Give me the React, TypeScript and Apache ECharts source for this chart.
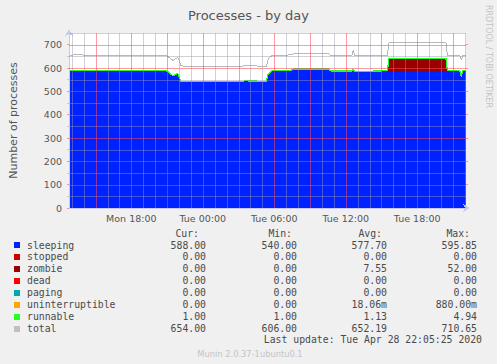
import React, { useEffect, useRef } from "react";
import * as echarts from "echarts";

// ---- data ----
const times = [
  "Mon 12:47", "Mon 13:45", "Mon 14:15", "Mon 16:00", "Mon 17:30", "Mon 19:00", "Mon 20:40",
  "Mon 21:00", "Mon 21:15", "Mon 21:30", "Mon 21:45", "Mon 21:55", "Mon 22:10", "Mon 23:00",
  "Tue 01:00", "Tue 03:20", "Tue 03:30", "Tue 04:30", "Tue 04:40", "Tue 05:20", "Tue 05:30",
  "Tue 05:50", "Tue 07:25", "Tue 07:35", "Tue 09:00", "Tue 10:35", "Tue 10:45", "Tue 12:30",
  "Tue 12:38", "Tue 12:45", "Tue 15:30", "Tue 15:38", "Tue 17:30", "Tue 20:25", "Tue 20:32",
  "Tue 21:35", "Tue 21:42", "Tue 21:50", "Tue 22:05",
];
const sleeping = [
  589, 590, 588, 588, 590, 589, 589,
  586, 575, 566, 573, 574, 541, 540,
  540, 540, 544, 543, 540, 540, 574,
  588, 589, 595, 595, 595, 586, 586,
  588, 584, 587, 588, 588, 588, 587,
  588, 563, 589, 588,
];
const zombie = [
  0, 0, 0, 0, 0, 0, 0,
  0, 0, 0, 0, 0, 0, 0,
  0, 0, 0, 0, 0, 0, 0,
  0, 0, 0, 0, 0, 0, 0,
  0, 0, 0, 52, 52, 52, 0,
  0, 0, 0, 0,
];
const runnable = [
  1, 1, 1, 1, 1, 1, 1,
  1, 1, 1, 1, 1, 1, 1,
  1, 1, 1, 1, 1, 1, 1,
  1, 1, 1, 1, 1, 1, 1,
  5, 1, 1, 1, 1, 1, 1,
  1, 1, 1, 1,
];
const total = [
  655, 657, 654, 655, 655, 655, 654,
  651, 643, 632, 641, 645, 609, 607,
  608, 607, 611, 610, 607, 607, 640,
  654, 656, 661, 662, 661, 652, 652,
  675, 652, 654, 708, 711, 709, 654,
  654, 635, 654, 654,
];

// axis ticks (hours since Mon 00:00) and value ticks
const xLabelHours = [18, 24, 30, 36, 42];
const xMajorHours = [15, 18, 21, 24, 27, 30, 33, 36, 39, 42, 45];
const xMinorHours = [13, 14, 16, 17, 19, 20, 22, 23, 25, 26, 28, 29, 31, 32, 34, 35, 37, 38, 40, 41, 43, 44, 46];
const yLabels = [0, 100, 200, 300, 400, 500, 600, 700];
const yMinor = [50, 150, 250, 350, 450, 550, 650, 750];

// legend table
const legendNames = ["sleeping", "stopped", "zombie", "dead", "paging", "uninterruptible", "runnable", "total"];
const legendColors = ["#0022ff", "#cc0000", "#990000", "#ff0000", "#00aaaa", "#ffa500", "#22ff22", "#c0c0c0"];
const curValues = ["588.00", "0.00", "0.00", "0.00", "0.00", "0.00", "1.00", "654.00"];
const minValues = ["540.00", "0.00", "0.00", "0.00", "0.00", "0.00", "1.00", "606.00"];
const avgValues = ["577.70", "0.00", "7.55", "0.00", "0.00", "18.06m", "1.13", "652.19"];
const maxValues = ["595.85", "0.00", "52.00", "0.00", "0.00", "880.00m", "4.94", "710.65"];

const X_MIN = 12 + 46 / 60;
const X_MAX = 46.1;
const Y_MAX = 750;

function toHours(t: string): number {
  const [d, hm] = t.split(" ");
  const [h, m] = hm.split(":").map(Number);
  return (d === "Tue" ? 24 : 0) + h + m / 60;
}

const xs = times.map(toHours);
// stacked tops (sleeping, +zombie, +runnable), painted back to front
const topZombie = sleeping.map((v, i) => v + zombie[i]);
const topRunnable = topZombie.map((v, i) => v + runnable[i]);
const pairs = (vals: number[]) => vals.map((v, i) => [xs[i], v]);

const pad = (n: number) => (n < 10 ? "0" + n : "" + n);
const fmtHour = (v: number) => {
  const r = Math.round(v);
  return (r < 24 ? "Mon" : "Tue") + " " + pad(r % 24) + ":00";
};

const MONO = '"DejaVu Sans Mono", monospace';
const SANS = '"DejaVu Sans", sans-serif';
const TXT = "#4a4a4a";
const AXIS = "#c8c8f0";
const MINOR = "rgba(150,150,170,0.45)";
const MAJOR = "rgba(255,70,90,0.55)";

// grid line list: [x, y, kind]; kind 0 = minor vertical, 1 = minor horizontal, 2 = major vertical, 3 = major horizontal
const gridLineData: number[][] = [
  ...xMinorHours.map((h) => [h, 0, 0]),
  ...yMinor.map((v) => [X_MIN, v, 1]),
  ...xMajorHours.map((h) => [h, 0, 2]),
  ...yLabels.filter((v) => v > 0).map((v) => [X_MIN, v, 3]),
];

export default function App() {
  const ref = useRef<HTMLDivElement>(null);
  useEffect(() => {
    if (!ref.current) return;
    const chart = echarts.init(ref.current, undefined, { renderer: "svg" });

    const tickAxisX = (vals: number[], color: string) => ({
      type: "value",
      min: X_MIN,
      max: X_MAX,
      axisLine: { show: false },
      axisLabel: { show: false },
      axisTick: { show: true, length: 2, customValues: vals, lineStyle: { color } },
      splitLine: { show: false },
    });
    const tickAxisY = (vals: number[], color: string, position = "left") => ({
      type: "value",
      min: 0,
      max: Y_MAX,
      position,
      axisLine: { show: false },
      axisLabel: { show: false },
      axisTick: { show: true, length: 2, customValues: vals, lineStyle: { color } },
      splitLine: { show: false },
    });

    const graphic: any[] = [];
    const rowY = (i: number) => 245 + 11.95 * i;
    const headers = [["Cur:", 199], ["Min:", 292], ["Avg:", 382], ["Max:", 470]] as const;
    headers.forEach(([t, x]) =>
      graphic.push({
        type: "text", x, y: 233,
        style: { text: t, fill: TXT, font: `9.8px ${MONO}`, align: "right", verticalAlign: "middle" },
      })
    );
    const cols: [string[], number][] = [[curValues, 206], [minValues, 297], [avgValues, 387], [maxValues, 477]];
    legendNames.forEach((name, i) => {
      const y = rowY(i);
      graphic.push({ type: "rect", shape: { x: 14, y: Math.round(y) - 3, width: 6, height: 6 }, style: { fill: legendColors[i] } });
      graphic.push({
        type: "text", x: 27, y,
        style: { text: name, fill: TXT, font: `9.8px ${MONO}`, align: "left", verticalAlign: "middle" },
      });
      cols.forEach(([arr, x]) =>
        graphic.push({
          type: "text", x, y,
          style: { text: arr[i], fill: TXT, font: `9.8px ${MONO}`, align: "right", verticalAlign: "middle" },
        })
      );
    });
    graphic.push({
      type: "text", x: 482, y: 339.5,
      style: { text: "Last update: Tue Apr 28 22:05:25 2020", fill: TXT, font: `9.8px ${MONO}`, align: "right", verticalAlign: "middle" },
    });
    graphic.push({
      type: "text", x: 250, y: 353.5,
      style: { text: "Munin 2.0.37-1ubuntu0.1", fill: "#c4c4c4", font: `8.3px ${SANS}`, align: "center", verticalAlign: "middle" },
    });
    graphic.push({
      type: "text", x: 488, y: 56.5, rotation: -Math.PI / 2,
      style: { text: "RRDTOOL / TOBI OETIKER", fill: "#c4c4c4", font: `8px ${SANS}`, align: "center", verticalAlign: "middle" },
    });

    const area = (name: string, vals: number[], color: string, lineWidth = 0) => ({
      name, type: "line", symbol: "none", z: 1,
      data: pairs(vals),
      lineStyle: { width: lineWidth, color },
      areaStyle: { color, opacity: 1, origin: "start" },
      itemStyle: { color },
    });

    const renderGrid = (params: any, api: any) => {
      const kind = api.value(2);
      const cs = params.coordSys;
      const color = kind >= 2 ? MAJOR : MINOR;
      const style = { stroke: color, lineWidth: 1, fill: "none" };
      const p = api.coord([api.value(0), api.value(1)]);
      if (kind % 2 === 0) {
        const x = Math.round(p[0]) + 0.5;
        return { type: "line", z2: 100, shape: { x1: x, y1: cs.y, x2: x, y2: cs.y + cs.height }, style };
      }
      const y = Math.round(p[1]) + 0.5;
      return { type: "line", z2: 100, shape: { x1: cs.x, y1: y, x2: cs.x + cs.width, y2: y }, style };
    };

    chart.setOption({
      animation: false,
      backgroundColor: "#f0f0f0",
      textStyle: { fontFamily: SANS },
      title: {
        text: "Processes - by day",
        left: "center",
        top: 4,
        textStyle: { fontSize: 13, fontWeight: "normal", color: "#555", fontFamily: SANS },
      },
      grid: {
        left: 67, right: 31, top: 33, bottom: 156,
        show: true, backgroundColor: "#ffffff", borderWidth: 0,
      },
      xAxis: [
        {
          type: "value",
          min: X_MIN,
          max: X_MAX,
          z: 11,
          axisLine: { show: true, symbol: ["none", "arrow"], symbolSize: [6, 7], symbolOffset: [0, 4], lineStyle: { color: AXIS, width: 1 } },
          axisTick: { show: false },
          splitLine: { show: false },
          axisLabel: {
            customValues: xLabelHours,
            formatter: (v: number) => fmtHour(v),
            color: "#555", fontSize: 9.5, fontFamily: SANS, margin: 5,
          },
        },
        tickAxisX(xMinorHours, MINOR),
        tickAxisX(xMajorHours, MAJOR),
      ],
      yAxis: [
        {
          type: "value",
          min: 0,
          max: Y_MAX,
          z: 11,
          name: "Number of processes",
          nameLocation: "middle",
          nameGap: 50,
          nameTextStyle: { color: "#555", fontSize: 11, fontFamily: SANS },
          axisLine: { show: true, symbol: ["none", "arrow"], symbolSize: [6, 7], symbolOffset: [0, 4], lineStyle: { color: AXIS, width: 1 } },
          axisTick: { show: false },
          splitLine: { show: false },
          axisLabel: { customValues: yLabels, color: "#555", fontSize: 9.5, fontFamily: SANS, margin: 7 },
        },
        tickAxisY(yMinor, MINOR),
        tickAxisY(yLabels, MAJOR),
        tickAxisY(yLabels, MAJOR, "right"),
      ],
      graphic,
      series: [
        area("runnable", topRunnable, "#22ff22", 1.2),
        area("zombie", topZombie, "#990000"),
        area("sleeping", sleeping, "#0022ff"),
        {
          name: "total", type: "line", symbol: "none", z: 2,
          data: pairs(total),
          lineStyle: { width: 1, color: "#b8b8b8" },
          itemStyle: { color: "#b8b8b8" },
        },
        {
          name: "grid", type: "custom", z: 50, zlevel: 1, silent: true, clip: false,
          encode: { x: 0, y: 1 },
          data: gridLineData,
          renderItem: renderGrid,
        },
      ],
    } as any);
    return () => chart.dispose();
  }, []);
  return (
    <div
      ref={ref}
      style={{ position: "fixed", left: 0, top: 0, width: 497, height: 364, shapeRendering: "crispEdges" } as any}
    />
  );
}
